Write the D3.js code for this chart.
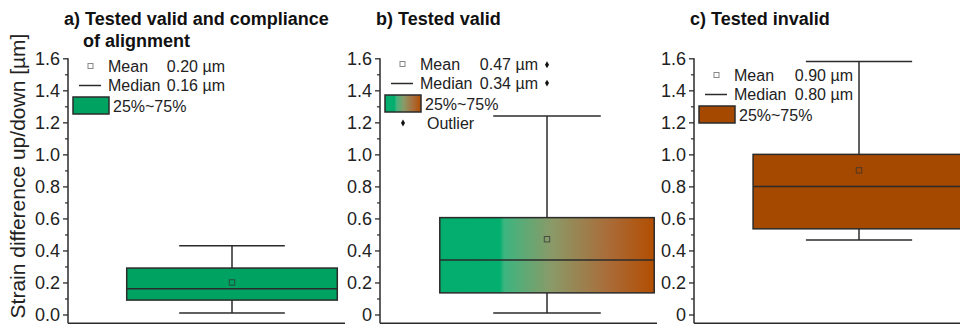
<!DOCTYPE html>
<html>
<head>
<meta charset="utf-8">
<script src="https://cdn.jsdelivr.net/npm/d3@7"></script>
<style>
  html, body { margin: 0; padding: 0; background: #fff; }
  svg { display: block; font-family: Arial, "Liberation Sans", sans-serif; }
</style>
</head>
<body>
<svg id="chart" width="960" height="325"></svg>
<script>
// Box statistics for the three test groups (strain difference up/down, µm)
const panelIds = ["a", "b", "c"];
const panelTitles = [
  ["a) Tested valid and compliance", "of alignment"],
  ["b) Tested valid"],
  ["c) Tested invalid"]
];
const whiskerLow = [0.01, 0.01, 0.465];
const quartile1 = [0.09, 0.135, 0.535];
const medianValues = [0.16, 0.34, 0.80];
const quartile3 = [0.29, 0.605, 1.0];
const whiskerHigh = [0.43, 1.24, 1.58];
const meanValues = [0.20, 0.47, 0.90];
const outlierValues = [[], [1.56, 1.445], []];
const meanLabels = ["0.20 µm", "0.47 µm", "0.90 µm"];
const medianLabels = ["0.16 µm", "0.34 µm", "0.80 µm"];
const boxFills = ["solid-green", "gradient", "solid-brown"];
const yTickValues = [0, 0.2, 0.4, 0.6, 0.8, 1.0, 1.2, 1.4, 1.6];
const yMinorValues = [0.1, 0.3, 0.5, 0.7, 0.9, 1.1, 1.3, 1.5];
const yTickLabels = [
  ["0.0", "0.2", "0.4", "0.6", "0.8", "1.0", "1.2", "1.4", "1.6"],
  ["0", "0.2", "0.4", "0.6", "0.8", "1.0", "1.2", "1.4", "1.6"],
  ["0", "0.2", "0.4", "0.6", "0.8", "1.0", "1.2", "1.4", "1.6"]
];
const yAxisTitle = "Strain difference up/down [µm]";

// Layout
const axisX = [68, 380, 694];
const plotWidth = [328, 334, 330];
const axisEnd = [345, 657, 960];
const legendTop = [66, 64, 75];
const ink = "#2b2b2b";
const green = "#00a262";
const brown = "#a54800";

const svg = d3.select("#chart");
const defs = svg.append("defs");
const grad = defs.append("linearGradient").attr("id", "greenBrown")
  .attr("x1", "0%").attr("x2", "100%").attr("y1", "0%").attr("y2", "0%");
[[0, "#02ad6e"], [0.28, "#03ae6f"], [0.30, "#3cb57f"], [0.52, "#8a9a68"],
 [0.78, "#a96d3a"], [1, "#b24e02"]].forEach(([o, c]) =>
  grad.append("stop").attr("offset", o).attr("stop-color", c));

function fillFor(kind) {
  if (kind === "gradient") return "url(#greenBrown)";
  return kind === "solid-green" ? green : brown;
}

const y = d3.scaleLinear().domain([-0.055, 1.6]).range([323.3, 58.3]);

panelIds.forEach((id, i) => {
  const g = svg.append("g").attr("class", "panel-" + id);
  const x = d3.scaleLinear().domain([0, 1]).range([axisX[i], axisX[i] + plotWidth[i]]);
  const cx = x(0.5);
  const boxHalf = x(0.5 + 0.321) - cx;
  const capHalf = x(0.5 + 0.161) - cx;

  // Title
  const title = g.append("text").attr("x", axisX[i] - 4).attr("y", 25)
    .attr("font-size", 18).attr("font-weight", "bold").attr("fill", "#111");
  panelTitles[i].forEach((line, k) => {
    title.append("tspan").attr("x", k === 0 ? axisX[i] - 4 : axisX[i] + 15)
      .attr("y", 25 + k * 22).text(line);
  });

  // Y axis with major and minor ticks
  const labels = yTickLabels[i];
  const axis = d3.axisLeft(y).tickValues(yTickValues).tickSize(5).tickPadding(3)
    .tickFormat((d, k) => labels[k]);
  const ag = g.append("g").attr("transform", `translate(${axisX[i]},0)`).call(axis);
  ag.select(".domain").remove();
  ag.selectAll(".tick line").attr("stroke", ink).attr("stroke-width", 1.3);
  ag.selectAll(".tick text").attr("font-size", 18).attr("fill", "#222")
    .attr("font-family", "Arial, 'Liberation Sans', sans-serif");
  const minor = d3.axisLeft(y).tickValues(yMinorValues).tickSize(3).tickFormat("");
  const mg = g.append("g").attr("transform", `translate(${axisX[i]},0)`).call(minor);
  mg.select(".domain").remove();
  mg.selectAll(".tick line").attr("stroke", ink).attr("stroke-width", 1.2);

  g.append("line").attr("x1", axisX[i]).attr("x2", axisX[i])
    .attr("y1", y(1.6)).attr("y2", y(-0.055))
    .attr("stroke", ink).attr("stroke-width", 1.5);
  g.append("line").attr("x1", axisX[i]).attr("x2", axisEnd[i])
    .attr("y1", y(-0.055)).attr("y2", y(-0.055))
    .attr("stroke", ink).attr("stroke-width", 1.5);

  // Whiskers
  const wk = { stroke: ink, "stroke-width": 1.5 };
  const line = (x1, y1, x2, y2) => {
    const l = g.append("line").attr("x1", x1).attr("y1", y1).attr("x2", x2).attr("y2", y2);
    Object.entries(wk).forEach(([k, v]) => l.attr(k, v));
    return l;
  };
  line(cx, y(whiskerHigh[i]), cx, y(quartile3[i]));
  line(cx, y(quartile1[i]), cx, y(whiskerLow[i]));
  line(cx - capHalf, y(whiskerHigh[i]), cx + capHalf, y(whiskerHigh[i]));
  line(cx - capHalf, y(whiskerLow[i]), cx + capHalf, y(whiskerLow[i]));

  // Box
  g.append("rect").attr("x", cx - boxHalf).attr("y", y(quartile3[i]))
    .attr("width", 2 * boxHalf).attr("height", y(quartile1[i]) - y(quartile3[i]))
    .attr("fill", fillFor(boxFills[i])).attr("stroke", ink).attr("stroke-width", 1.5);
  line(cx - boxHalf, y(medianValues[i]), cx + boxHalf, y(medianValues[i]));

  // Mean marker
  g.append("rect").attr("x", cx - 2.7).attr("y", y(meanValues[i]) - 2.7)
    .attr("width", 5.4).attr("height", 5.4).attr("fill", "none")
    .attr("stroke", "#333").attr("stroke-opacity", 0.75).attr("stroke-width", 1);

  // Outliers
  g.selectAll(".outlier").data(outlierValues[i]).join("path").attr("class", "outlier")
    .attr("d", d3.symbol(d3.symbolDiamond, 14))
    .attr("transform", d => `translate(${cx},${y(d)})`).attr("fill", "#111");

  // Legend
  const lt = legendTop[i];
  const lx = axisX[i];
  const valueEnd = [225, 538, 853][i];
  const lg = g.append("g").attr("font-size", 16).attr("fill", "#222");
  lg.append("rect").attr("x", lx + 20).attr("y", lt - 2.5).attr("width", 5).attr("height", 5)
    .attr("fill", "none").attr("stroke", "#888").attr("stroke-width", 1);
  lg.append("text").attr("x", lx + 40).attr("y", lt + 5.5).text("Mean");
  lg.append("text").attr("x", valueEnd).attr("y", lt + 5.5).attr("text-anchor", "end").text(meanLabels[i]);
  lg.append("line").attr("x1", lx + 11).attr("x2", lx + 33).attr("y1", lt + 19.5).attr("y2", lt + 19.5)
    .attr("stroke", ink).attr("stroke-width", 1.5);
  lg.append("text").attr("x", lx + 40).attr("y", lt + 24.5).text("Median");
  lg.append("text").attr("x", valueEnd).attr("y", lt + 24.5).attr("text-anchor", "end").text(medianLabels[i]);
  lg.append("rect").attr("x", lx + 5).attr("y", lt + 31).attr("width", 36).attr("height", 17)
    .attr("fill", fillFor(boxFills[i])).attr("stroke", ink).attr("stroke-width", 1.5);
  lg.append("text").attr("x", lx + 45).attr("y", lt + 45.5).text("25%~75%");
  if (outlierValues[i].length) {
    lg.append("path").attr("d", d3.symbol(d3.symbolDiamond, 14))
      .attr("transform", `translate(${lx + 23},${lt + 59})`).attr("fill", "#111");
    lg.append("text").attr("x", lx + 47).attr("y", lt + 64.5).text("Outlier");
  }
});

// Shared y-axis title
svg.append("text").attr("transform", "translate(25,176) rotate(-90)")
  .attr("text-anchor", "middle").attr("font-size", 21).attr("fill", "#222")
  .text(yAxisTitle);
</script>
</body>
</html>
